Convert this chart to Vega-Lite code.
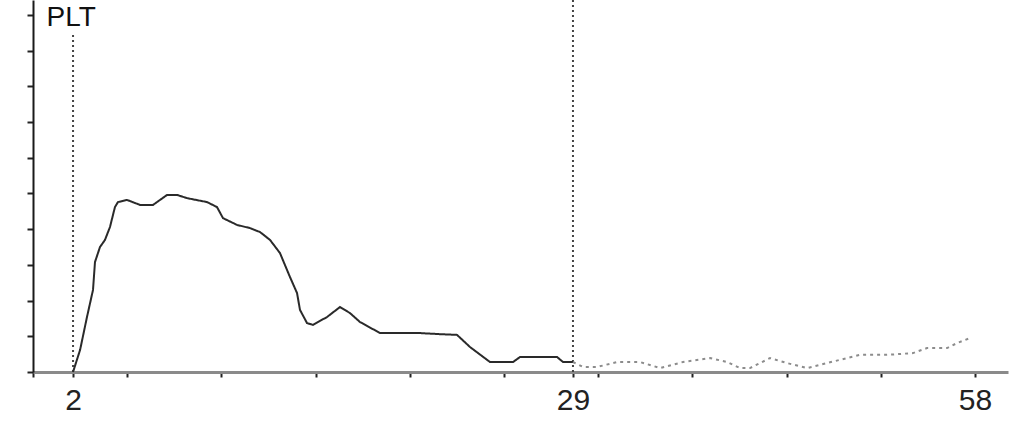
{
  "$schema": "https://vega.github.io/schema/vega-lite/v6.json",
  "width": 975,
  "height": 372,
  "autosize": {"type": "none"},
  "padding": {"left": 33, "top": 0, "right": 4, "bottom": 58},
  "background": "white",
  "config": {"view": {"stroke": null}, "font": "Liberation Sans"},
  "datasets": {
    "cut": [{"x": 4.25, "fl": 2, "bot": 0, "top": 95}, {"x": 57.32, "fl": 29, "bot": 0, "top": 104.2}],
    "hist": [
      {"series": "main", "x": 4.25, "v": 0},
      {"series": "main", "x": 5.0, "v": 6.2},
      {"series": "main", "x": 5.73, "v": 15.4},
      {"series": "main", "x": 6.37, "v": 23.0},
      {"series": "main", "x": 6.58, "v": 30.8},
      {"series": "main", "x": 7.11, "v": 35.0},
      {"series": "main", "x": 7.64, "v": 37.0},
      {"series": "main", "x": 8.17, "v": 40.6},
      {"series": "main", "x": 8.7, "v": 46.2},
      {"series": "main", "x": 9.02, "v": 47.6},
      {"series": "main", "x": 9.98, "v": 48.2},
      {"series": "main", "x": 11.36, "v": 46.8},
      {"series": "main", "x": 12.74, "v": 46.8},
      {"series": "main", "x": 14.23, "v": 49.6},
      {"series": "main", "x": 15.29, "v": 49.6},
      {"series": "main", "x": 16.35, "v": 48.7},
      {"series": "main", "x": 18.47, "v": 47.6},
      {"series": "main", "x": 19.53, "v": 46.2},
      {"series": "main", "x": 20.17, "v": 43.1},
      {"series": "main", "x": 21.66, "v": 41.2},
      {"series": "main", "x": 23.04, "v": 40.3},
      {"series": "main", "x": 24.1, "v": 39.2},
      {"series": "main", "x": 25.16, "v": 37.0},
      {"series": "main", "x": 26.22, "v": 33.3},
      {"series": "main", "x": 27.28, "v": 26.6},
      {"series": "main", "x": 28.03, "v": 22.1},
      {"series": "main", "x": 28.34, "v": 17.4},
      {"series": "main", "x": 29.09, "v": 13.7},
      {"series": "main", "x": 29.72, "v": 13.2},
      {"series": "main", "x": 31.21, "v": 15.4},
      {"series": "main", "x": 32.59, "v": 18.2},
      {"series": "main", "x": 33.65, "v": 16.5},
      {"series": "main", "x": 34.71, "v": 14.0},
      {"series": "main", "x": 36.84, "v": 10.9},
      {"series": "main", "x": 41.08, "v": 10.9},
      {"series": "main", "x": 43.21, "v": 10.6},
      {"series": "main", "x": 45.01, "v": 10.4},
      {"series": "main", "x": 46.39, "v": 7.0},
      {"series": "main", "x": 48.51, "v": 2.8},
      {"series": "main", "x": 50.96, "v": 2.8},
      {"series": "main", "x": 51.7, "v": 4.2},
      {"series": "main", "x": 55.63, "v": 4.2},
      {"series": "main", "x": 56.26, "v": 2.8},
      {"series": "main", "x": 57.32, "v": 2.8},
      {"series": "tail", "x": 57.32, "v": 2.8},
      {"series": "tail", "x": 58.39, "v": 1.4},
      {"series": "tail", "x": 59.87, "v": 1.4},
      {"series": "tail", "x": 62.0, "v": 2.8},
      {"series": "tail", "x": 64.44, "v": 2.8},
      {"series": "tail", "x": 66.56, "v": 1.1},
      {"series": "tail", "x": 69.0, "v": 2.8},
      {"series": "tail", "x": 71.87, "v": 3.9},
      {"series": "tail", "x": 73.67, "v": 2.8},
      {"series": "tail", "x": 75.05, "v": 1.1},
      {"series": "tail", "x": 76.11, "v": 1.1},
      {"series": "tail", "x": 78.24, "v": 3.9},
      {"series": "tail", "x": 80.04, "v": 2.5},
      {"series": "tail", "x": 82.17, "v": 1.1},
      {"series": "tail", "x": 84.29, "v": 2.5},
      {"series": "tail", "x": 86.41, "v": 3.9},
      {"series": "tail", "x": 87.79, "v": 4.8},
      {"series": "tail", "x": 90.66, "v": 4.8},
      {"series": "tail", "x": 93.42, "v": 5.3},
      {"series": "tail", "x": 94.9, "v": 6.7},
      {"series": "tail", "x": 97.03, "v": 6.7},
      {"series": "tail", "x": 98.09, "v": 8.1},
      {"series": "tail", "x": 99.47, "v": 9.5}
    ]
  },
  "encoding": {
    "x": {
      "field": "x",
      "type": "quantitative",
      "scale": {"domain": [0, 103.5], "nice": false, "zero": false},
      "axis": {
        "values": [0, 4.25, 10, 20, 30, 40, 50, 57.32, 60, 70, 80, 90, 100],
        "labelExpr": "datum.value == 4.25 ? '2' : datum.value == 57.32 ? '29' : datum.value == 100 ? '58' : ''",
        "grid": false,
        "title": null,
        "domainColor": "#8a8a8a",
        "domainWidth": 3,
        "tickColor": "#222222",
        "tickSize": 5,
        "tickWidth": 2,
        "labelFontSize": 30,
        "labelColor": "#222222",
        "labelPadding": 8,
        "labelFont": "Liberation Sans",
        "labelFlush": false,
        "labelOverlap": false
      }
    },
    "y": {
      "field": "v",
      "type": "quantitative",
      "scale": {"domain": [0, 104.2], "nice": false},
      "axis": {
        "values": [0, 10, 20, 30, 40, 50, 60, 70, 80, 90, 100],
        "labels": false,
        "grid": false,
        "domainColor": "#1a1a1a",
        "domainWidth": 2,
        "tickColor": "#222222",
        "tickSize": 6,
        "tickWidth": 2,
        "title": "PLT",
        "titleAngle": 0,
        "titleX": 13,
        "titleY": 3,
        "titleAlign": "left",
        "titleBaseline": "top",
        "titleFontSize": 28,
        "titleFontWeight": "normal",
        "titleFont": "Liberation Sans",
        "titleColor": "#111111"
      }
    }
  },
  "layer": [
    {
      "data": {"name": "cut"},
      "mark": {"type": "rule", "strokeDash": [2, 3], "color": "#444444", "strokeWidth": 2},
      "encoding": {
        "y": {
          "field": "bot",
          "type": "quantitative",
          "scale": {"domain": [0, 104.2], "nice": false},
          "axis": {
            "values": [0, 10, 20, 30, 40, 50, 60, 70, 80, 90, 100],
            "labels": false,
            "grid": false,
            "domainColor": "#1a1a1a",
            "domainWidth": 2,
            "tickColor": "#222222",
            "tickSize": 6,
            "tickWidth": 2,
            "title": "PLT",
            "titleAngle": 0,
            "titleX": 13,
            "titleY": 3,
            "titleAlign": "left",
            "titleBaseline": "top",
            "titleFontSize": 28,
            "titleFontWeight": "normal",
            "titleFont": "Liberation Sans",
            "titleColor": "#111111"
          }
        },
        "y2": {"field": "top"}
      }
    },
    {
      "data": {"name": "hist"},
      "mark": {"type": "line", "strokeWidth": 2},
      "encoding": {
        "color": {"field": "series", "type": "nominal", "scale": {"domain": ["main", "tail"], "range": ["#2a2a2a", "#8c8c8c"]}, "legend": null},
        "strokeDash": {"field": "series", "type": "nominal", "scale": {"domain": ["main", "tail"], "range": [[1, 0], [3, 4]]}, "legend": null}
      }
    }
  ]
}
